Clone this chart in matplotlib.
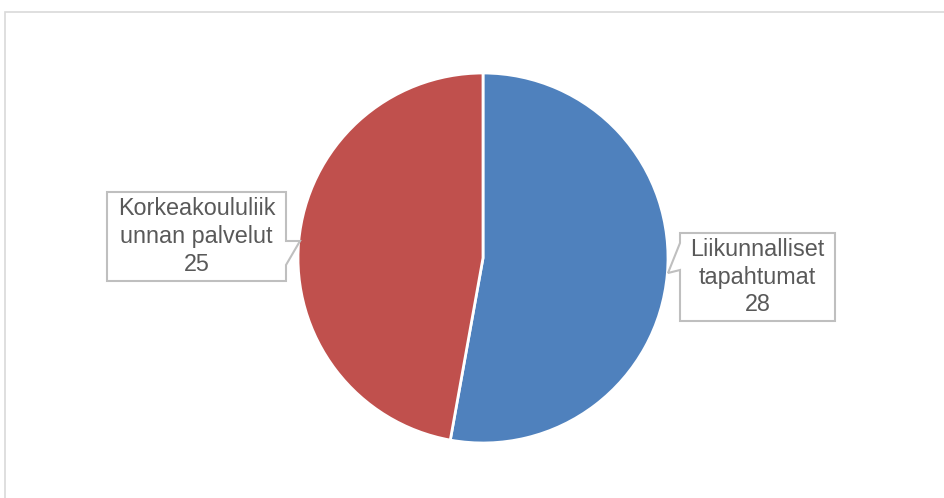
import matplotlib
matplotlib.use("Agg")
import matplotlib.pyplot as plt
from matplotlib.patches import Polygon, Rectangle
import numpy as np

categories = ["Liikunnalliset\ntapahtumat", "Korkeakoululiik\nunnan palvelut"]
values = [28, 25]
colors = ["#4F81BD", "#C0504D"]

W, H, DPI = 944, 498, 100
fig = plt.figure(figsize=(W / DPI, H / DPI), dpi=DPI)
fig.patch.set_facecolor("white")

# outer chart border (extends past right and bottom edges)
fig.patches.append(Rectangle((5 / W, -0.2), 1.2, (H - 12) / H + 0.2, transform=fig.transFigure,
                             fill=False, edgecolor="#D9D9D9", linewidth=1.2))

cx, cy, R = 483, 258, 185
ax = fig.add_axes([(cx - R) / W, (H - cy - R) / H, 2 * R / W, 2 * R / H])
wedges, _ = ax.pie(values, colors=colors, startangle=90, counterclock=False, radius=1,
                   wedgeprops=dict(edgecolor="white", linewidth=2))
ax.set_xlim(-1, 1)
ax.set_ylim(-1, 1)
ax.axis("off")


def px(x, y):
    return ((x - cx) / R, (cy - y) / R)


def callout(box, base, tip):
    x0, y0, x1, y1 = box
    b0, b1 = base
    if tip[0] > x1:
        pts = [(x0, y0), (x1, y0), (x1, b0), tip, (x1, b1), (x1, y1), (x0, y1)]
    else:
        pts = [(x0, y0), (x1, y0), (x1, y1), (x0, y1), (x0, b1), tip, (x0, b0)]
    poly = Polygon([px(*p) for p in pts], closed=True, facecolor="white",
                   edgecolor="#BFBFBF", linewidth=1.5, clip_on=False, zorder=5)
    ax.add_patch(poly)


# label geometry (pixel layout)
label_boxes = [(680, 233, 835, 321), (107, 192, 286, 281)]
label_bases = [(243, 270), (241, 265)]
label_tips = [(668, 273), (300, 241)]

for cat, val, box, base, tip in zip(categories, values, label_boxes, label_bases, label_tips):
    callout(box, base, tip)
    tx, ty = px((box[0] + box[2]) / 2, (box[1] + box[3]) / 2)
    ax.text(tx, ty, f"{cat}\n{val}", ha="center", va="center", fontsize=16.8,
            family="Liberation Sans", color="#595959", linespacing=1.27, zorder=6)

fig.savefig("out.png", dpi=DPI)
